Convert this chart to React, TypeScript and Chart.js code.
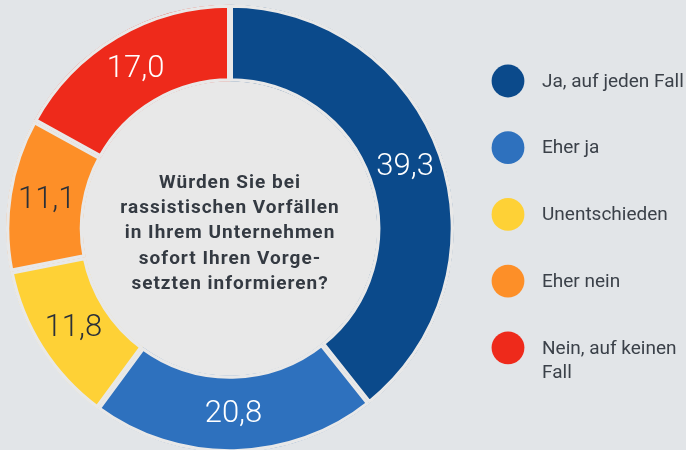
import React, { useEffect, useRef } from 'react';
import { Chart, registerables } from 'chart.js';

Chart.register(...registerables);

const categories = ['Ja, auf jeden Fall', 'Eher ja', 'Unentschieden', 'Eher nein', 'Nein, auf keinen Fall'];
const values = [39.3, 20.8, 11.8, 11.1, 17.0];
const colors = ['#0b4a8b', '#2e71be', '#fed136', '#fd8f28', '#ee2a1b'];
const labelColors = ['#ffffff', '#ffffff', '#2b3038', '#2b3038', '#ffffff'];
const centerLines = [
  'Würden Sie bei',
  'rassistischen Vorfällen',
  'in Ihrem Unternehmen',
  'sofort Ihren Vorge-',
  'setzten informieren?',
];

const BG = '#e2e5e8';
const HOLE = '#e8e8e8';
const TEXT = '#343a42';

const fmt = (v: number) => v.toFixed(1).replace('.', ',');

function wrap(ctx: CanvasRenderingContext2D, text: string, maxW: number): string[] {
  const words = text.split(' ');
  const lines: string[] = [];
  let cur = '';
  for (const w of words) {
    const test = cur ? cur + ' ' + w : w;
    if (cur && ctx.measureText(test).width > maxW) {
      lines.push(cur);
      cur = w;
    } else cur = test;
  }
  if (cur) lines.push(cur);
  return lines;
}

const decor = {
  id: 'decor',
  beforeDatasetsDraw(chart: any) {
    const arc = chart.getDatasetMeta(0).data[0];
    if (!arc) return;
    const ctx = chart.ctx;
    ctx.save();
    ctx.fillStyle = HOLE;
    ctx.beginPath();
    ctx.arc(arc.x, arc.y, arc.innerRadius + 3, 0, Math.PI * 2);
    ctx.fill();
    ctx.restore();
  },
  afterDatasetsDraw(chart: any) {
    const ctx = chart.ctx;
    const meta = chart.getDatasetMeta(0);
    const ds = chart.data.datasets[0];
    ctx.save();
    ctx.textAlign = 'center';
    ctx.textBaseline = 'middle';
    ctx.font = '300 31px Roboto';
    meta.data.forEach((el: any, i: number) => {
      const p = el.getCenterPoint();
      ctx.fillStyle = labelColors[i];
      ctx.fillText(fmt(ds.data[i]), p.x, p.y);
    });
    // center text
    const arc = meta.data[0];
    ctx.fillStyle = TEXT;
    ctx.font = 'bold 19px Roboto';
    (ctx as any).letterSpacing = '1px';
    const lh = 25.3;
    centerLines.forEach((t, i) => {
      ctx.fillText(t, arc.x, arc.y + 5 + (i - 2) * lh);
    });
    (ctx as any).letterSpacing = '0px';
    // legend
    const labels = chart.data.labels as string[];
    ctx.textAlign = 'left';
    ctx.font = '19px Roboto';
    labels.forEach((lab, i) => {
      const cy = 81 + i * 66.7;
      ctx.fillStyle = colors[i];
      ctx.beginPath();
      ctx.arc(508, cy, 16.4, 0, Math.PI * 2);
      ctx.fill();
      ctx.fillStyle = '#3b4149';
      const lines = wrap(ctx, lab, 148);
      lines.forEach((ln, j) => ctx.fillText(ln, 542, cy + 1 + j * 24));
    });
    ctx.restore();
  },
};

export default function App() {
  const ref = useRef<HTMLCanvasElement>(null);
  useEffect(() => {
    document.body.style.margin = '0';
    document.body.style.background = BG;
    const chart = new Chart(ref.current!, {
      type: 'doughnut',
      data: {
        labels: categories,
        datasets: [
          {
            data: values,
            backgroundColor: colors,
            borderColor: HOLE,
            borderWidth: 3,
            borderAlign: 'inner',
            hoverOffset: 0,
          } as any,
        ],
      },
      options: {
        responsive: false,
        animation: false,
        radius: 224,
        cutout: '65.6%',
        layout: { padding: { left: 0, right: 226, top: 7, bottom: 0 } },
        plugins: { legend: { display: false }, tooltip: { enabled: false } },
        events: [],
      } as any,
      plugins: [decor],
    });
    return () => chart.destroy();
  }, []);
  return (
    <div style={{ width: 686, height: 450, background: BG, overflow: 'hidden' }}>
      <canvas ref={ref} width={686} height={450} style={{ display: 'block' }} />
    </div>
  );
}
